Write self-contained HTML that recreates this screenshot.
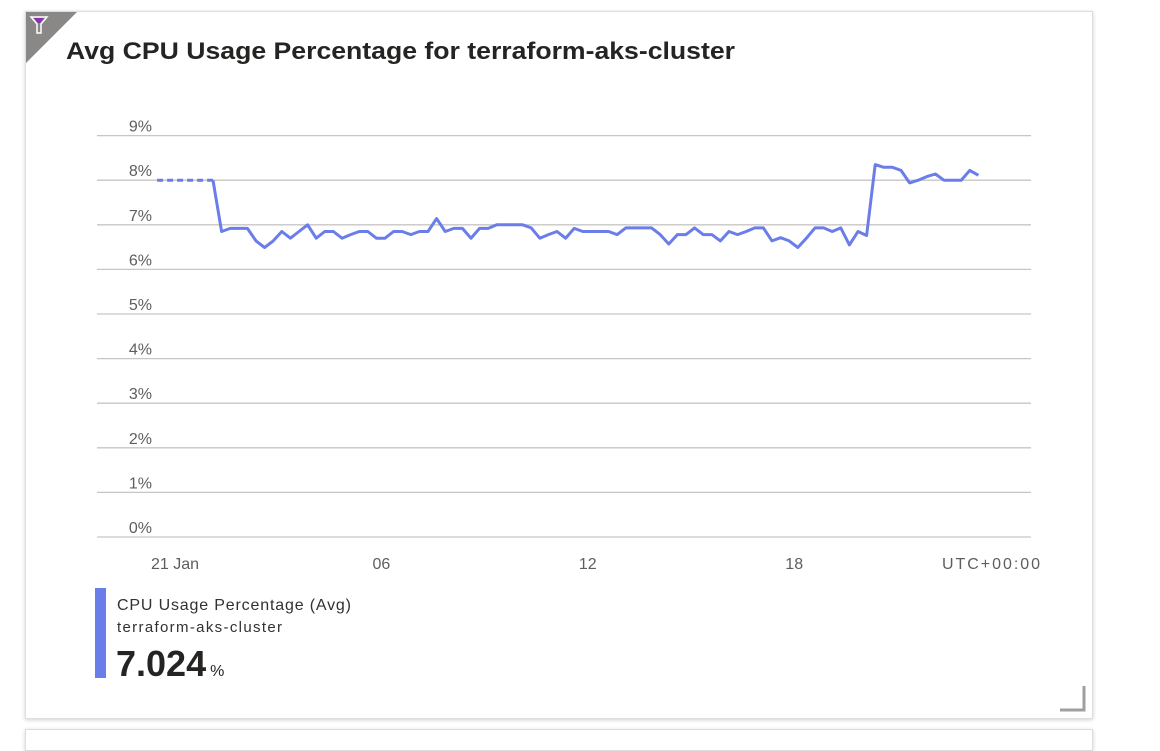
<!DOCTYPE html>
<html><head><meta charset="utf-8"><style>
body{margin:0;width:1160px;height:734px;background:#fff;font-family:"Liberation Sans",sans-serif;overflow:hidden;position:relative}
.card{position:absolute;left:25px;top:11px;width:1066px;height:706px;border:1px solid #ddd;box-shadow:0 1px 4px rgba(0,0,0,.18);background:#fff}
.card2{position:absolute;left:25px;top:729px;width:1066px;height:20px;border:1px solid #ddd;box-shadow:0 1px 4px rgba(0,0,0,.18)}
</style></head><body>
<div class="card"></div>
<div class="card2"></div>
<svg width="1160" height="734" style="position:absolute;left:0;top:0">
<polygon points="26,12 77,12 26,63" fill="#8a8886"/>
<path d="M31,17 H47 L41,24 V33 H37 V24 Z" fill="none" stroke="#fff" stroke-width="1.5"/>
<path d="M34,18 H44 L40,23 H38 Z" fill="#8b2fb0"/>
<text x="66" y="59" font-size="24" font-weight="bold" fill="#252423" textLength="669" lengthAdjust="spacingAndGlyphs">Avg CPU Usage Percentage for terraform-aks-cluster</text>
<g id="grid"></g><g id="series"></g>
<text x="942" y="569" font-size="16" fill="#605e5c" textLength="98">UTC+00:00</text>
<rect x="95" y="588" width="11" height="90" fill="#6b7de8"/>
<text x="117" y="610" font-size="16" fill="#323130" textLength="234">CPU Usage Percentage (Avg)</text>
<text x="117" y="632" font-size="15" fill="#323130" textLength="165">terraform-aks-cluster</text>
<text x="116" y="676" font-size="36" font-weight="bold" fill="#252423">7.024<tspan font-size="16" font-weight="normal" dx="4">%</tspan></text>
<path d="M1060,710 H1084 V686" fill="none" stroke="#a19f9d" stroke-width="3"/>
</svg>
<script>
const yTicks=[0,1,2,3,4,5,6,7,8,9];
const xTickDays=[0,6,12,18];
const xTickLabels=["21 Jan","06","12","18"];
const startDay=1.105, stepDay=0.25;
const gapStartDay=-0.52, gapValue=8;
const values=[8.0,6.85,6.92,6.92,6.92,6.64,6.49,6.64,6.85,6.7,6.85,7.0,6.7,6.85,6.85,6.7,6.78,6.85,6.85,6.7,6.7,6.85,6.85,6.78,6.85,6.85,7.14,6.85,6.92,6.92,6.7,6.92,6.92,7.0,7.0,7.0,7.0,6.93,6.7,6.78,6.85,6.7,6.92,6.85,6.85,6.85,6.85,6.78,6.93,6.93,6.93,6.93,6.78,6.57,6.78,6.78,6.93,6.78,6.78,6.64,6.85,6.78,6.85,6.93,6.93,6.64,6.71,6.64,6.49,6.7,6.93,6.93,6.85,6.93,6.55,6.85,6.76,8.35,8.29,8.29,8.22,7.94,8.0,8.08,8.14,8.0,8.0,8.0,8.22,8.11];
const NS="http://www.w3.org/2000/svg";
const x=d=>175+d*34.4, y=v=>537-v*44.6;
const grid=document.getElementById('grid'), ser=document.getElementById('series');
function mk(tag,at,parent){const e=document.createElementNS(NS,tag);for(const k in at)e.setAttribute(k,at[k]);parent.appendChild(e);return e;}
yTicks.forEach(v=>{
 const l=mk('line',{x1:97,x2:1031,y1:y(v),y2:y(v),stroke:'#c8c6c4','stroke-width':1.3},grid);
 
 
 const t=mk('text',{x:152,y:y(v)-4,'font-size':16,fill:'#605e5c','text-anchor':'end'},grid);t.textContent=v+'%';
 
 
});
xTickDays.forEach((d,i)=>{
 const t=mk('text',{x:x(d),y:569,'font-size':16,fill:'#605e5c','text-anchor':'middle'},grid);t.textContent=xTickLabels[i];
 
 
});
const dash=mk('line',{x1:x(gapStartDay),x2:x(startDay),y1:y(gapValue),y2:y(gapValue),stroke:'#6b7de8','stroke-width':3,'stroke-dasharray':'6,4'},ser);


const pts=values.map((v,i)=>x(startDay+i*stepDay).toFixed(1)+','+y(v).toFixed(1)).join(' ');
const pl=mk('polyline',{points:pts,fill:'none',stroke:'#6b7de8','stroke-width':3,'stroke-linejoin':'round'},ser);


</script>
</body></html>
